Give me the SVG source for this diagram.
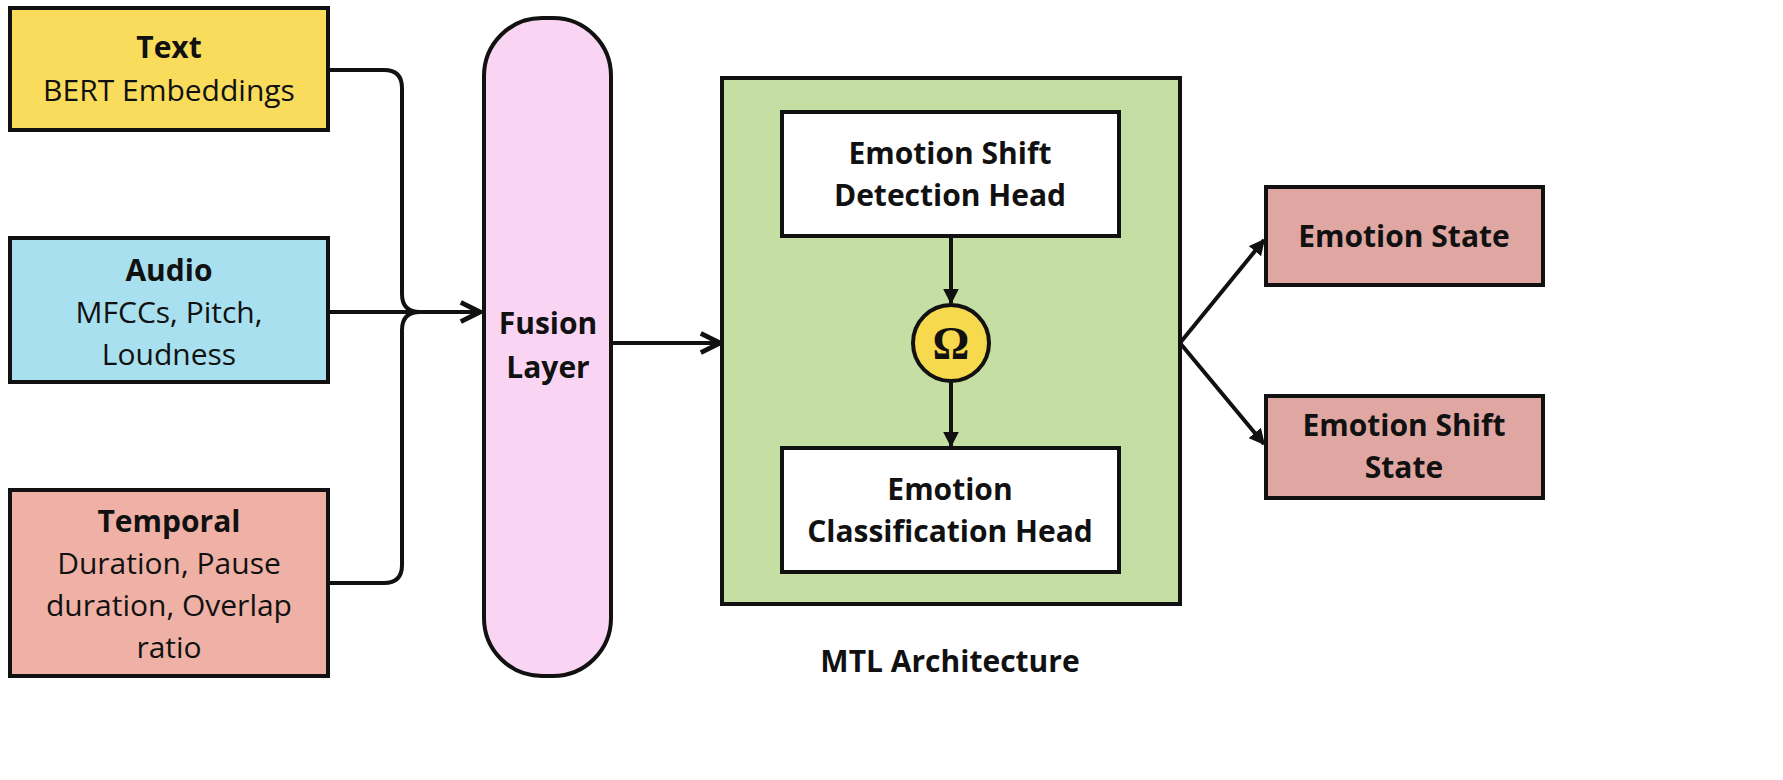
<svg xmlns="http://www.w3.org/2000/svg" width="1783" height="780" viewBox="0 0 1783 780">
<style>
.b{stroke:#111;stroke-width:4}
.t{font-family:"Open Sans","Liberation Sans",sans-serif;font-size:30px;fill:#111;text-anchor:middle}
.h{font-weight:bold}
.c{fill:none;stroke:#111;stroke-width:4}
</style>
<defs>
<marker id="a" viewBox="0 0 10 10" refX="9" refY="5" markerWidth="6" markerHeight="6" orient="auto"><path d="M1,1 L9,5 L1,9" fill="none" stroke="#111" stroke-width="2"/></marker>
<marker id="f" viewBox="0 0 10 10" refX="9" refY="5" markerWidth="4" markerHeight="4" orient="auto"><path d="M0,0 L10,5 L0,10 Z" fill="#111"/></marker>
</defs>
<rect width="1783" height="780" fill="#fff"/>
<g id="text"><rect class="b" x="10" y="8" width="318" height="122" fill="#f9dc5c"/>
<text class="t h" x="169" y="58">Text</text><text class="t" x="169" y="101">BERT Embeddings</text></g>
<g id="audio"><rect class="b" x="10" y="238" width="318" height="144" fill="#a8e0ef"/>
<text class="t h" x="169" y="281">Audio</text><text class="t" x="169" y="323">MFCCs, Pitch,</text><text class="t" x="169" y="365">Loudness</text></g>
<g id="temporal"><rect class="b" x="10" y="490" width="318" height="186" fill="#efb1a6"/>
<text class="t h" x="169" y="532">Temporal</text><text class="t" x="169" y="574">Duration, Pause</text><text class="t" x="169" y="616">duration, Overlap</text><text class="t" x="169" y="658">ratio</text></g>
<g id="fusion"><rect class="b" x="484" y="18" width="127" height="658" rx="58" fill="#f9d5f3"/>
<text class="t h" x="548" y="334">Fusion</text><text class="t h" x="548" y="378">Layer</text></g>
<g id="mtl"><rect class="b" x="722" y="78" width="458" height="526" fill="#c5dea4"/>
<text class="t h" x="950" y="672">MTL Architecture</text></g>
<g id="shift-head"><rect class="b" x="782" y="112" width="337" height="124" fill="#fff"/>
<text class="t h" x="950" y="164">Emotion Shift</text><text class="t h" x="950" y="206">Detection Head</text></g>
<g id="omega"><circle class="b" cx="951" cy="343" r="38" fill="#f7d94e"/>
<text x="951" y="359" font-family="'Liberation Serif',serif" font-weight="bold" font-size="46" text-anchor="middle" fill="#111">Ω</text></g>
<g id="class-head"><rect class="b" x="782" y="448" width="337" height="124" fill="#fff"/>
<text class="t h" x="950" y="500">Emotion</text><text class="t h" x="950" y="542">Classification Head</text></g>
<g id="state"><rect class="b" x="1266" y="187" width="277" height="98" fill="#dfa6a2"/>
<text class="t h" x="1404" y="247">Emotion State</text></g>
<g id="shift-state"><rect class="b" x="1266" y="396" width="277" height="102" fill="#dfa6a2"/>
<text class="t h" x="1404" y="436">Emotion Shift</text><text class="t h" x="1404" y="478">State</text></g>
<g id="connectors">
<path class="c" d="M328,70 H384 Q402,70 402,88 V294 Q402,312 420,312"/>
<path class="c" d="M328,583 H384 Q402,583 402,565 V330 Q402,312 420,312"/>
<path class="c" d="M328,312 H480" marker-end="url(#a)"/>
<path class="c" d="M611,343 H720" marker-end="url(#a)"/>
<path class="c" d="M951,236 V303" marker-end="url(#f)"/>
<path class="c" d="M951,381 V446" marker-end="url(#f)"/>
<path class="c" d="M1180,343 L1264,240" marker-end="url(#f)"/>
<path class="c" d="M1180,343 L1264,444" marker-end="url(#f)"/>
</g>
</svg>
